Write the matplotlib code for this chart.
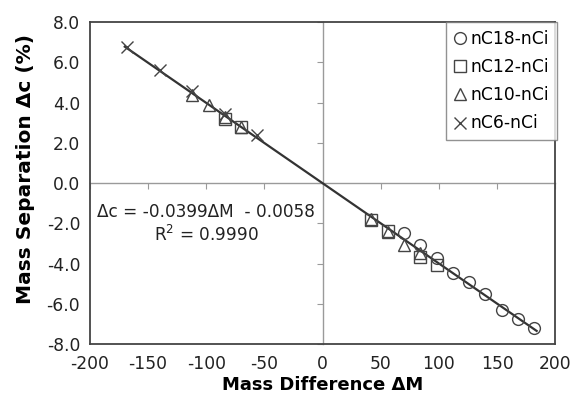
import matplotlib
matplotlib.use("Agg")
import matplotlib.pyplot as plt
import numpy as np

plt.rcParams['font.family'] = ['DejaVu Sans']

# Mass difference (ΔM) and mass separation (Δc, %) for each reference alkane
c18_dm = [70, 84, 98, 112, 126, 140, 154, 168, 182]
c18_dc = [-2.5, -3.1, -3.7, -4.45, -4.9, -5.5, -6.3, -6.75, -7.2]

c12_dm = [-84, -70, 42, 56, 84, 98]
c12_dc = [3.2, 2.8, -1.85, -2.4, -3.65, -4.05]

c10_dm = [-112, -98, -84, -70, 42, 56, 70, 84]
c10_dc = [4.4, 3.9, 3.3, 2.8, -1.8, -2.45, -3.1, -3.5]

c6_dm = [-168, -140, -112, -84, -56]
c6_dc = [6.76, 5.6, 4.55, 3.45, 2.4]

slope, intercept = -0.0399, -0.0058
fit_range = [-170, 184]

xticks = [-200, -150, -100, -50, 0, 50, 100, 150, 200]
yticks = [-8, -6, -4, -2, 0, 2, 4, 6, 8]

fig = plt.figure(figsize=(5.76, 4.01), dpi=100)
rect = [0.156, 0.142, 0.808, 0.803]
ax = fig.add_axes(rect)
ax.set_xlim(-200, 200)
ax.set_ylim(-8, 8)

# zero-crossing axes carrying the tick marks
ax0 = fig.add_axes(rect, sharex=ax, sharey=ax)
ax0.patch.set_visible(False)
for s in ['top', 'right']:
    ax0.spines[s].set_visible(False)
ax0.spines['left'].set_position(('data', 0))
ax0.spines['bottom'].set_position(('data', 0))
for s in ['left', 'bottom']:
    ax0.spines[s].set_color('#9a9a9a')
    ax0.spines[s].set_linewidth(1.0)
ax0.tick_params(axis='both', direction='out', length=4, color='#9a9a9a',
                labelleft=False, labelbottom=False)
ax0.set_zorder(0)
ax.set_zorder(1)
ax.patch.set_visible(False)

ax.set_xticks(xticks)
ax.set_yticks(yticks)
ax.set_xticklabels([f"{v}" for v in xticks])
ax.set_yticklabels([f"{v:.1f}" for v in yticks])
ax.tick_params(axis='both', length=0, labelsize=12.3, colors='#222222')
ax.tick_params(axis='x', pad=8)
ax.tick_params(axis='y', pad=7)
for s in ax.spines.values():
    s.set_color('#444444')
    s.set_linewidth(1.3)

xs = np.array(fit_range)
ax.plot(xs, slope * xs + intercept, color='#333333', lw=1.6, zorder=3)

mk = dict(linestyle='none', markerfacecolor='none', markeredgecolor='#444444',
          markeredgewidth=1.0, zorder=4)
h1, = ax.plot(c18_dm, c18_dc, marker='o', markersize=8.5, label='nC18-nCi', **mk)
h2, = ax.plot(c12_dm, c12_dc, marker='s', markersize=8, label='nC12-nCi', **mk)
h3, = ax.plot(c10_dm, c10_dc, marker='^', markersize=8.5, label='nC10-nCi', **mk)
h4, = ax.plot(c6_dm, c6_dc, marker='x', markersize=9, label='nC6-nCi', **mk)

leg = ax.legend(handles=[h1, h2, h3, h4], loc='upper right',
                bbox_to_anchor=(1.003, 1.0), frameon=True, fancybox=False,
                fontsize=12.3, handlelength=0.7, handletextpad=0.25,
                labelspacing=0.6, borderpad=0.45, borderaxespad=0.0)
leg.get_frame().set_edgecolor('#777777')
leg.get_frame().set_linewidth(1.0)

ax.text(-100, -1.45, "Δc = -0.0399ΔM  - 0.0058", ha='center', va='center',
        fontsize=12.2, color='#222222')
ax.text(-100, -2.6, "R$^2$ = 0.9990", ha='center', va='center',
        fontsize=12.2, color='#222222')

ax.set_xlabel("Mass Difference ΔM", fontsize=13, fontweight='bold', labelpad=2)
ax.set_ylabel("Mass Separation Δc (%)", fontsize=14.5, fontweight='bold')
ax.yaxis.set_label_coords(-0.117, 0.545)

fig.savefig("out.png", dpi=100)
